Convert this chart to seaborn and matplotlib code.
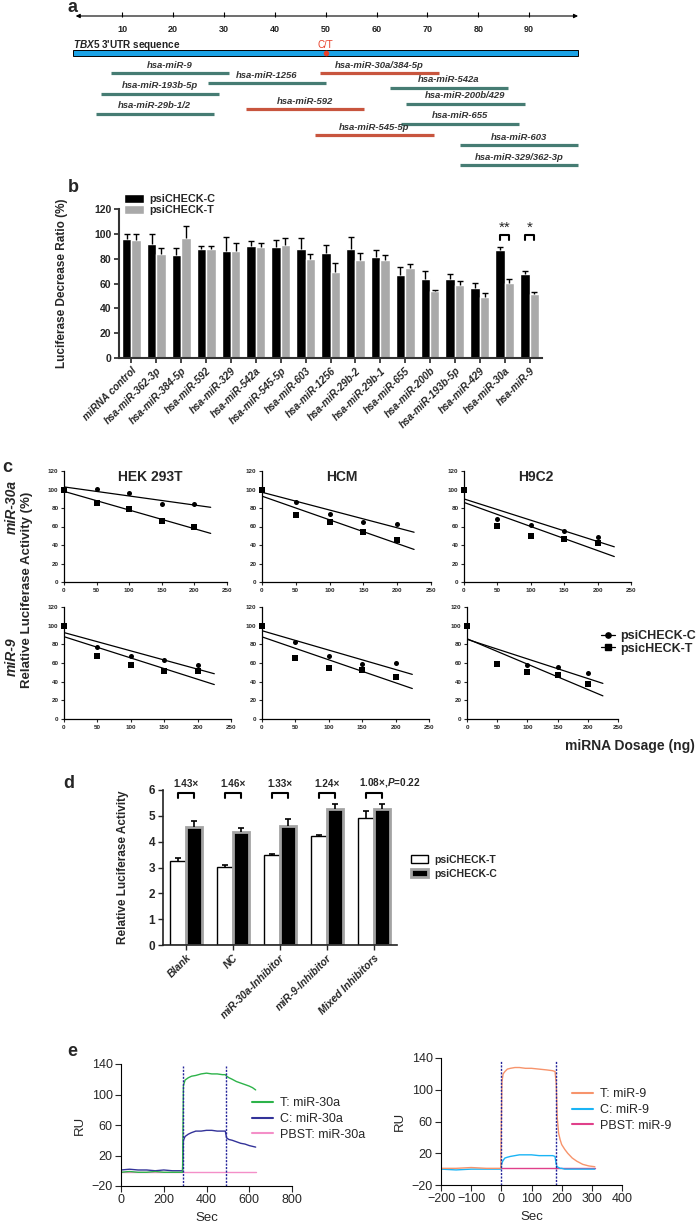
import numpy as np
import pandas as pd
import matplotlib
matplotlib.use("Agg")
import matplotlib.pyplot as plt
import seaborn as sns
from matplotlib.patches import Patch
from matplotlib.lines import Line2D

# ---------------- data ----------------
# a: TBX5 3'UTR and predicted binding sites (sequence position)
utr_span = [0.4, 99.6]
snp_pos = 50
axis_ticks = [10, 20, 30, 40, 50, 60, 70, 80, 90]
site_names = ["hsa-miR-9", "hsa-miR-1256", "hsa-miR-193b-5p", "hsa-miR-29b-1/2", "hsa-miR-592",
              "hsa-miR-30a/384-5p", "hsa-miR-542a", "hsa-miR-200b/429", "hsa-miR-655",
              "hsa-miR-545-5p", "hsa-miR-603", "hsa-miR-329/362-3p"]
site_start = [7.9, 26.9, 5.9, 4.8, 34.3, 48.9, 62.7, 65.8, 64.9, 48.0, 76.4, 76.4]
site_end = [31.0, 50.0, 29.1, 28.1, 57.5, 72.3, 85.8, 89.1, 88.0, 71.2, 99.5, 99.5]
site_on_snp = [False, False, False, False, True, True, False, False, False, True, False, False]

# b: luciferase decrease ratio
mirnas_b = ["miRNA control", "hsa-miR-362-3p", "hsa-miR-384-5p", "hsa-miR-592", "hsa-miR-329",
            "hsa-miR-542a", "hsa-miR-545-5p", "hsa-miR-603", "hsa-miR-1256", "hsa-miR-29b-2",
            "hsa-miR-29b-1", "hsa-miR-655", "hsa-miR-200b", "hsa-miR-193b-5p", "hsa-miR-429",
            "hsa-miR-30a", "hsa-miR-9"]
ratio_c = [96, 92, 83, 87.4, 86.4, 89.9, 89.6, 87.7, 84.7, 87.7, 81.5, 66.7, 64, 63.5, 56, 86.6, 67.3]
err_c = [4, 8, 5.8, 3, 11, 4.3, 5.6, 8.9, 6.3, 10, 5.4, 6.3, 6.2, 4, 4.3, 3, 2.7]
ratio_t = [95, 83.7, 96.3, 87.4, 86.4, 89, 91, 79.4, 69, 78.6, 78.8, 72.6, 53.8, 58.4, 49.2, 60.3, 51.4]
err_t = [5, 5.1, 9.7, 2.6, 6.4, 4, 6, 4.6, 7.7, 6.1, 4.2, 3.3, 0.8, 3.6, 3, 3.7, 2.1]
sig_marks = {"hsa-miR-30a": "**", "hsa-miR-9": "*"}

# c: dose response
dose = [0, 50, 100, 150, 200]
cells = ["HEK 293T", "HCM", "H9C2"]
hek_30a_c = [100, 101, 96, 84, 84]
hek_30a_t = [100, 85, 79, 66, 59]
hcm_30a_c = [100, 87, 74, 65, 63]
hcm_30a_t = [100, 72, 65, 54, 45]
h9c2_30a_c = [100, 68, 62, 55, 49]
h9c2_30a_t = [100, 61, 50, 47, 42]
hek_9_c = [100, 77, 67, 63, 58]
hek_9_t = [100, 67, 58, 51, 51]
hcm_9_c = [100, 83, 67, 59, 60]
hcm_9_t = [100, 65, 55, 52, 45]
h9c2_9_c = [100, 59, 58, 56, 49]
h9c2_9_t = [100, 59, 50, 47, 38]

# d: inhibitors
groups_d = ["Blank", "NC", "miR-30a-Inhibitor", "miR-9-Inhibitor", "Mixed Inhibitors"]
act_t = [3.24, 3.02, 3.47, 4.21, 4.92]
sem_t = [0.13, 0.08, 0.04, 0.05, 0.27]
act_c = [4.56, 4.38, 4.59, 5.25, 5.27]
sem_c = [0.23, 0.15, 0.27, 0.20, 0.18]
fold_labels = ["1.43×", "1.46×", "1.33×", "1.24×", "1.08×,$\\mathit{P}$=0.22"]

# e: SPR sensorgrams
t_30a = [0, 40, 80, 120, 160, 200, 240, 280, 288, 292, 300, 315, 330, 350, 375, 400, 425, 450,
         475, 488, 494, 505, 520, 540, 560, 580, 600, 615, 630]
ru_t_30a = [-2, -1, -2, -2, -1, -2, -2, -2, -2, 112, 119, 122, 124, 125, 127, 128, 127, 127,
            126, 126, 124, 122, 120, 117, 115, 113, 111, 109, 106]
ru_c_30a = [1, 2, 1, 1, 0, 1, 0, 0, 0, 40, 45, 48, 50, 52, 52, 53, 53, 52,
            52, 52, 43, 41, 40, 38, 36, 35, 33, 32, 31]
t_pbst_30a = [0, 630]
ru_pbst_30a = [-1, -1]
inj_30a = [290, 490]

t_9 = [-200, -150, -100, -50, -10, -2, 2, 6, 12, 20, 30, 45, 60, 80, 100, 125, 150, 170, 178,
       182, 185, 190, 195, 200, 210, 220, 235, 250, 270, 290, 310]
ru_t_9 = [1, 1, 2, 1, 1, 1, 110, 120, 123, 126, 127, 128, 128, 127, 127, 126, 125, 124, 123,
          108, 66, 45, 37, 31, 25, 20, 14, 10, 6, 4, 3]
ru_c_9 = [0, -1, 0, 0, 0, 0, 8, 11, 14, 15, 16, 17, 18, 18, 18, 17, 17, 17, 16,
          6, 3, 2, 1, 1, 0, 0, 0, 0, 0, 0, 0]
t_pbst_9 = [0, 310]
ru_pbst_9 = [1, 1]
inj_9 = [0, 180]

# ---------------- style ----------------
sns.set_theme(style="ticks")
plt.rcParams["font.family"] = ["Liberation Sans", "DejaVu Sans"]
plt.rcParams["mathtext.fontset"] = "custom"
plt.rcParams["mathtext.it"] = "Liberation Sans:italic:bold"
plt.rcParams["mathtext.rm"] = "Liberation Sans:bold"

W, H = 697, 1226
fig = plt.figure(figsize=(W / 100, H / 100), dpi=100)


def box(l, t, r, b):
    return [l / W, 1 - b / H, (r - l) / W, (b - t) / H]


def ftext(x, y, s, **kw):
    fig.text(x / W, 1 - y / H, s, **kw)


def bold_ticks(ax, size, xsize=None):
    for lab in ax.get_yticklabels():
        lab.set_fontweight("bold")
        lab.set_fontsize(size)
    for lab in ax.get_xticklabels():
        lab.set_fontweight("bold")
        lab.set_fontsize(xsize or size)


def up_errorbars(ax, container, errs, **kw):
    xs = [p.get_x() + p.get_width() / 2 for p in container]
    ys = [p.get_height() for p in container]
    _, caps, _ = ax.errorbar(xs, ys, yerr=[np.zeros(len(errs)), errs], fmt="none",
                             ecolor="black", **kw)
    if len(caps) == 2:
        caps[0].set_visible(False)
    return xs


teal, brick = "#467c73", "#c8553e"

# ---------------- a ----------------
ax_a = fig.add_axes([0, 1 - 185 / H, 1, 185 / H])
ax_a.set_xlim(-71.1 / 5.09, (W - 71.1) / 5.09)
ax_a.set_ylim(185, 0)
ax_a.axis("off")
ax_a.annotate("", xy=(99.6, 16), xytext=(0.9, 16),
              arrowprops=dict(arrowstyle="<|-|>", color="black", lw=0.8,
                              mutation_scale=6, shrinkA=0, shrinkB=0))
ax_a.vlines(axis_ticks, 12, 16.5, color="black", lw=0.8)
for t in axis_ticks:
    ax_a.text(t, 29, str(t), ha="center", va="center", fontsize=6.5, fontweight="bold", color="#222")
ax_a.barh(53, utr_span[1] - utr_span[0], left=utr_span[0], height=5.5,
          color="#1ba3e6", edgecolor="black", linewidth=0.7)
ax_a.text(utr_span[0], 45, "$\\mathit{TBX5}$ 3'UTR sequence", ha="left", va="center",
          fontsize=7.2, fontweight="bold", color="#222")
ax_a.text(snp_pos, 45, "C/T", ha="center", va="center", fontsize=7, color="#e8402a")
ax_a.plot(snp_pos, 53, "o", color="#e8402a", ms=3)
site_row_px = [73, 83, 94, 114, 109, 73, 88, 104, 124, 135, 145, 165]
for name, s, e, red, y in zip(site_names, site_start, site_end, site_on_snp, site_row_px):
    ax_a.hlines(y, s, e, color=brick if red else teal, lw=2.3)
    ax_a.text((s + e) / 2, y - 8, name, ha="center", va="center", fontsize=6.8,
              style="italic", fontweight="bold", color="#333")
ftext(72, 8, "a", fontsize=13, fontweight="bold", ha="center", va="center")

# ---------------- b ----------------
n_b = len(mirnas_b)
df_b = pd.DataFrame({"miRNA": mirnas_b * 2,
                     "construct": ["psiCHECK-C"] * n_b + ["psiCHECK-T"] * n_b,
                     "ratio": ratio_c + ratio_t})
ax_b = fig.add_axes(box(119, 209, 542, 358))
sns.barplot(data=df_b, x="miRNA", y="ratio", hue="construct",
            hue_order=["psiCHECK-C", "psiCHECK-T"], palette=["black", "#a9a9a9"],
            width=0.76, saturation=1, errorbar=None, legend=False, ax=ax_b)
xc = up_errorbars(ax_b, ax_b.containers[0], err_c, elinewidth=1, capsize=2, capthick=1)
xt = up_errorbars(ax_b, ax_b.containers[1], err_t, elinewidth=1, capsize=2, capthick=1)
for name, mark in sig_marks.items():
    i = mirnas_b.index(name)
    ax_b.plot([xc[i], xc[i], xt[i], xt[i]], [95, 99, 99, 95], color="black", lw=1.5)
    ax_b.text((xc[i] + xt[i]) / 2, 99, mark, ha="center", va="bottom", fontsize=11)
ax_b.set_ylim(0, 120)
ax_b.set_xlim(-0.5, n_b - 0.5)
ax_b.set_yticks(range(0, 121, 20))
ax_b.set_xticks(range(n_b))
ax_b.set_xticklabels(mirnas_b, rotation=45, ha="right", rotation_mode="anchor",
                     style="italic")
sns.despine(ax=ax_b)
for sp in ax_b.spines.values():
    sp.set_linewidth(1.5)
    sp.set_color("#333")
ax_b.tick_params(axis="both", width=1.2, length=3.5, pad=2)
bold_ticks(ax_b, 7.5, 7.3)
ax_b.set_xlabel("")
ax_b.set_ylabel("Luciferase Decrease Ratio (%)", fontsize=8.5, fontweight="bold")
ax_b.yaxis.set_label_coords((68 - 119) / 423, 0.5)
fig.legend([Patch(facecolor="black"), Patch(facecolor="#a9a9a9")],
           ["psiCHECK-C", "psiCHECK-T"], loc="upper left",
           bbox_to_anchor=(124 / W, 1 - 194 / H), frameon=False,
           prop={"weight": "bold", "size": 7.8}, handlelength=1.8, handleheight=0.9,
           labelspacing=0.05, handletextpad=0.5, borderpad=0, borderaxespad=0)
ftext(73, 187, "b", fontsize=13, fontweight="bold", ha="center", va="center")

# ---------------- c ----------------
c_data = [[(hek_30a_c, hek_30a_t), (hcm_30a_c, hcm_30a_t), (h9c2_30a_c, h9c2_30a_t)],
          [(hek_9_c, hek_9_t), (hcm_9_c, hcm_9_t), (h9c2_9_c, h9c2_9_t)]]
c_boxes = [[(64, 471, 227, 582), (262, 471, 431, 582), (464, 471, 631, 582)],
           [(64, 607, 231, 719), (262, 607, 429, 719), (467, 607, 618, 719)]]
title_xfrac = [0.53, 0.47, 0.43]
fit_x = np.array([0, 225])
for r in range(2):
    for k in range(3):
        ax = fig.add_axes(box(*c_boxes[r][k]))
        for vals, mk, sz in zip(c_data[r][k], ["o", "s"], [13, 17]):
            sns.scatterplot(x=dose, y=vals, marker=mk, s=sz, color="black", linewidth=0,
                            ax=ax, clip_on=False, zorder=3)
            slope, icpt = np.polyfit(dose, vals, 1)
            ax.plot(fit_x, slope * fit_x + icpt, color="black", lw=0.9)
        ax.set_xlim(0, 250)
        ax.set_ylim(0, 120)
        ax.set_xticks(range(0, 251, 50))
        ax.set_yticks(range(0, 121, 20))
        sns.despine(ax=ax)
        for sp in ax.spines.values():
            sp.set_linewidth(0.9)
            sp.set_color("black")
        ax.tick_params(axis="both", width=0.8, length=2.5, pad=1.5)
        bold_ticks(ax, 4.5)
        if r == 0:
            ax.text(title_xfrac[k], 0.946, cells[k], transform=ax.transAxes, ha="center",
                    va="center", fontsize=10, fontweight="bold")
ftext(12, 507, "miR-30a", rotation=90, fontsize=10, fontweight="bold", style="italic",
      ha="center", va="center")
ftext(12, 657, "miR-9", rotation=90, fontsize=10, fontweight="bold", style="italic",
      ha="center", va="center")
ftext(27, 590, "Relative Luciferase Activity (%)", rotation=90, fontsize=9.5,
      fontweight="bold", ha="center", va="center")
fig.legend([Line2D([], [], color="black", marker="o", ms=3.8, lw=0.9),
            Line2D([], [], color="black", marker="s", ms=4.1, lw=0.9)],
           ["psiCHECK-C", "psicHECK-T"], loc="upper left",
           bbox_to_anchor=(601 / W, 1 - 630 / H), frameon=False,
           prop={"weight": "bold", "size": 9}, handlelength=1.1, handletextpad=0.4,
           labelspacing=0.05, borderpad=0, borderaxespad=0)
ftext(695, 746, "miRNA Dosage (ng)", ha="right", va="center", fontsize=10, fontweight="bold")
ftext(7, 468, "c", fontsize=13, fontweight="bold", ha="center", va="center")

# ---------------- d ----------------
n_d = len(groups_d)
df_d = pd.DataFrame({"group": groups_d * 2,
                     "construct": ["psiCHECK-T"] * n_d + ["psiCHECK-C"] * n_d,
                     "activity": act_t + act_c})
ax_d = fig.add_axes(box(163, 790, 397, 945))
sns.barplot(data=df_d, x="group", y="activity", hue="construct",
            hue_order=["psiCHECK-T", "psiCHECK-C"], palette=["white", "black"],
            width=0.68, saturation=1, errorbar=None, legend=False, ax=ax_d)
for p in ax_d.containers[0]:
    p.set_edgecolor("black")
    p.set_linewidth(1)
for p in ax_d.containers[1]:
    p.set_edgecolor("#a3a3a3")
    p.set_linewidth(2)
xw = up_errorbars(ax_d, ax_d.containers[0], sem_t, elinewidth=1.2, capsize=2.5, capthick=1.2)
xb = up_errorbars(ax_d, ax_d.containers[1], sem_c, elinewidth=1.2, capsize=2.5, capthick=1.2)
for i, lab in enumerate(fold_labels):
    ax_d.plot([xw[i], xw[i], xb[i], xb[i]], [5.7, 5.88, 5.88, 5.7], color="black", lw=1.5,
              clip_on=False)
    if "P" in lab:
        ax_d.text(xw[i] - 0.14, 6.05, lab, ha="left", va="bottom", fontsize=7.2,
                  fontweight="bold", clip_on=False)
    else:
        ax_d.text((xw[i] + xb[i]) / 2, 6.05, lab, ha="center", va="bottom", fontsize=7.2,
                  fontweight="bold", clip_on=False)
ax_d.set_ylim(0, 6)
ax_d.set_xlim(-0.5, n_d - 0.5)
ax_d.set_yticks(range(0, 7))
ax_d.set_xticks(range(n_d))
ax_d.set_xticklabels(groups_d, rotation=45, ha="right", rotation_mode="anchor", style="italic")
sns.despine(ax=ax_d)
for sp in ax_d.spines.values():
    sp.set_linewidth(1.2)
    sp.set_color("#222")
ax_d.tick_params(axis="both", width=1, length=3.5, pad=2)
bold_ticks(ax_d, 8.5, 7.5)
ax_d.set_xlabel("")
ax_d.set_ylabel("Relative Luciferase Activity", fontsize=8.5, fontweight="bold")
ax_d.yaxis.set_label_coords((129 - 163) / 234, 0.5)
fig.legend([Patch(facecolor="white", edgecolor="black", lw=1),
            Patch(facecolor="black", edgecolor="#a3a3a3", lw=2)],
           ["psiCHECK-T", "psiCHECK-C"], loc="upper left",
           bbox_to_anchor=(411 / W, 1 - 855 / H), frameon=False,
           prop={"weight": "bold", "size": 7.5}, handlelength=1.6, handleheight=0.8,
           labelspacing=0.35, handletextpad=0.6, borderpad=0, borderaxespad=0)
ftext(69, 783, "d", fontsize=13, fontweight="bold", ha="center", va="center")

# ---------------- e ----------------
e_sets = [
    (box(121, 1064, 292, 1186), (0, 800), range(0, 801, 200), inj_30a,
     [(t_30a, ru_t_30a, "#2db34a", "T: miR-30a"), (t_30a, ru_c_30a, "#333399", "C: miR-30a"),
      (t_pbst_30a, ru_pbst_30a, "#f48fc8", "PBST: miR-30a")], (252, 1119)),
    (box(441, 1058, 622, 1185), (-200, 400), range(-200, 401, 100), inj_9,
     [(t_9, ru_t_9, "#f7946c", "T: miR-9"), (t_9, ru_c_9, "#1ab4f5", "C: miR-9"),
      (t_pbst_9, ru_pbst_9, "#e0408a", "PBST: miR-9")], (572, 1110)),
]
for rect, xlim, xticks, inj, traces, leg_xy in e_sets:
    ax = fig.add_axes(rect)
    handles = []
    for tt, ru, col, lab in traces[::-1]:
        sns.lineplot(x=tt, y=ru, color=col, lw=1, ax=ax)
    for tt, ru, col, lab in traces:
        handles.append(Line2D([], [], color=col, lw=1.5, label=lab))
    ax.vlines(inj, -20, 137, color="#24249a", lw=1, ls=(0, (1.5, 1)))
    ax.set_xlim(*xlim)
    ax.set_ylim(-20, 140)
    ax.set_xticks(list(xticks))
    ax.set_yticks([-20, 20, 60, 100, 140])
    sns.despine(ax=ax)
    for sp in ax.spines.values():
        sp.set_linewidth(0.8)
        sp.set_color("black")
    ax.tick_params(axis="both", width=0.8, length=4, labelsize=9, pad=2)
    ax.set_xlabel("Sec", fontsize=9.5)
    ax.set_ylabel("RU", fontsize=9.5)
    fig.legend(handles=handles, loc="center left",
               bbox_to_anchor=(leg_xy[0] / W, 1 - leg_xy[1] / H), frameon=False,
               fontsize=9, handlelength=1.7, handletextpad=0.5, labelspacing=0.3,
               borderpad=0, borderaxespad=0)
ftext(72, 1052, "e", fontsize=13, fontweight="bold", ha="center", va="center")

fig.savefig("out.png", dpi=100)
